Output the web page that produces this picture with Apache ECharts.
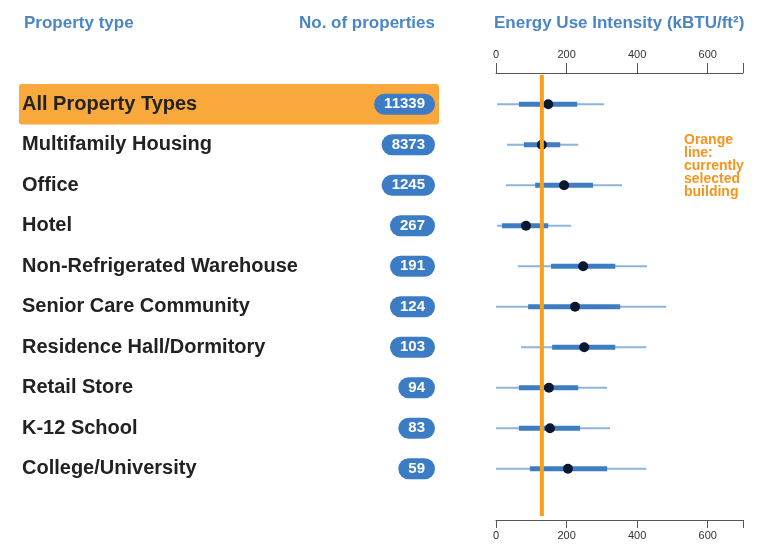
<!DOCTYPE html>
<html><head><meta charset="utf-8">
<script src="https://cdn.jsdelivr.net/npm/echarts@6/dist/echarts.min.js"></script>
<style>html,body{margin:0;padding:0;background:#fff}#c{width:760px;height:552px}</style>
</head><body><div id="c"></div>
<script>
const categories = ['All Property Types','Multifamily Housing','Office','Hotel','Non-Refrigerated Warehouse','Senior Care Community','Residence Hall/Dormitory','Retail Store','K-12 School','College/University'];
const propertyCounts = [11339,8373,1245,267,191,124,103,94,83,59];
const euiMin    = [3,31,28,3,62,0,71,0,0,0];
const euiQ1     = [65,79,111,17,156,91,159,65,65,96];
const euiMedian = [148,130,193,85,247,224,250,150,153,204];
const euiQ3     = [230,182,275,148,338,352,338,233,238,315];
const euiMax    = [306,233,357,213,428,482,426,315,323,426];
const selectedBuildingEUI = 130;
const selectedIndex = 0;
const xTickValues = [0,200,400,600];
const euiAxisMax = 700;

const chart = echarts.init(document.getElementById('c'), null, {renderer:'canvas'});
const FONT = 'Liberation Sans, Arial, sans-serif';
const headerStyle = {fontSize:17, fontWeight:'bold', color:'#4a86c6', fontFamily:FONT};
const tickLabel = v => xTickValues.includes(v) ? String(v) : '';

const boxData = categories.map((c,i)=>[i, euiMin[i], euiQ1[i], euiMedian[i], euiQ3[i], euiMax[i]]);
const highlight = categories.map((c,i)=> i===selectedIndex ? 1 : '-');

chart.setOption({
  backgroundColor:'#ffffff',
  animation:false,
  title:[
    {text:'Property type', left:24, top:15, padding:0, textStyle:headerStyle},
    {text:'No. of properties', right:325, top:15, padding:0, textStyle:headerStyle},
    {text:'Energy Use Intensity (kBTU/ft²)', left:494, top:15, padding:0, textStyle:headerStyle},
    {text:'Orange\nline:\ncurrently\nselected\nbuilding', left:684, top:134, padding:0,
     textStyle:{fontSize:14, fontWeight:'bold', color:'#f7941d', lineHeight:13, fontFamily:FONT}}
  ],
  grid:[
    {left:19, top:84, width:420, height:405},
    {left:496, top:84, width:247, height:405},
    {left:496, top:75, width:247, height:441}
  ],
  xAxis:[
    {gridIndex:0, type:'value', min:0, max:1, show:false},
    {gridIndex:1, type:'value', position:'top', offset:11, min:0, max:euiAxisMax, interval:200,
     axisLine:{show:true, lineStyle:{color:'#555', width:1}},
     axisTick:{show:true, length:10, lineStyle:{color:'#555'}},
     axisLabel:{margin:13, fontSize:11, color:'#333', fontFamily:FONT, formatter:tickLabel},
     splitLine:{show:false}},
    {gridIndex:1, type:'value', position:'bottom', offset:31, min:0, max:euiAxisMax, interval:200,
     axisLine:{show:true, lineStyle:{color:'#555', width:1}},
     axisTick:{show:true, length:8, lineStyle:{color:'#555'}},
     axisLabel:{margin:10, fontSize:11, color:'#333', fontFamily:FONT, formatter:tickLabel},
     splitLine:{show:false}},
    {gridIndex:2, type:'value', min:0, max:euiAxisMax, show:false}
  ],
  yAxis:[
    {gridIndex:0, type:'category', data:categories, inverse:true, position:'left', z:5,
     axisLine:{show:false}, axisTick:{show:false},
     axisLabel:{inside:true, margin:3, fontSize:20, fontWeight:'bold', color:'#222', fontFamily:FONT}},
    {gridIndex:0, type:'category', data:propertyCounts.map(String), inverse:true, position:'right', z:5,
     axisLine:{show:false}, axisTick:{show:false},
     axisLabel:{inside:true, margin:4, fontSize:15, lineHeight:15, fontWeight:'bold', color:'#fff', fontFamily:FONT,
       backgroundColor:'#3b7cc4', borderRadius:11, padding:[3,10,3,10]}},
    {gridIndex:1, type:'category', data:categories, inverse:true, show:false},
    {gridIndex:2, type:'value', min:0, max:1, show:false}
  ],
  series:[
    {type:'bar', xAxisIndex:0, yAxisIndex:0, data:highlight, barWidth:'100%',
     itemStyle:{color:'#f9a83c', borderRadius:3}, silent:true, z:1},
    {type:'custom', xAxisIndex:1, yAxisIndex:2, data:boxData, z:3,
     encode:{x:[1,2,3,4,5], y:0},
     renderItem:function(params, api){
       const i = api.value(0);
       const pMin = api.coord([api.value(1), i]);
       const pQ1 = api.coord([api.value(2), i]);
       const pMed = api.coord([api.value(3), i]);
       const pQ3 = api.coord([api.value(4), i]);
       const pMax = api.coord([api.value(5), i]);
       return {type:'group', children:[
         {type:'line', shape:{x1:pMin[0], y1:pMin[1], x2:pMax[0], y2:pMax[1]}, style:{stroke:'#8db4dc', lineWidth:2}},
         {type:'line', shape:{x1:pQ1[0], y1:pQ1[1], x2:pQ3[0], y2:pQ3[1]}, style:{stroke:'#3e7dc2', lineWidth:5}},
         {type:'circle', shape:{cx:pMed[0], cy:pMed[1], r:5}, style:{fill:'#0b1930'}}
       ]};
     }},
    {type:'line', xAxisIndex:3, yAxisIndex:3, data:[[selectedBuildingEUI,0],[selectedBuildingEUI,1]],
     symbol:'none', lineStyle:{color:'#f7a11a', width:4}, z:5, silent:true}
  ]
});
</script></body></html>
